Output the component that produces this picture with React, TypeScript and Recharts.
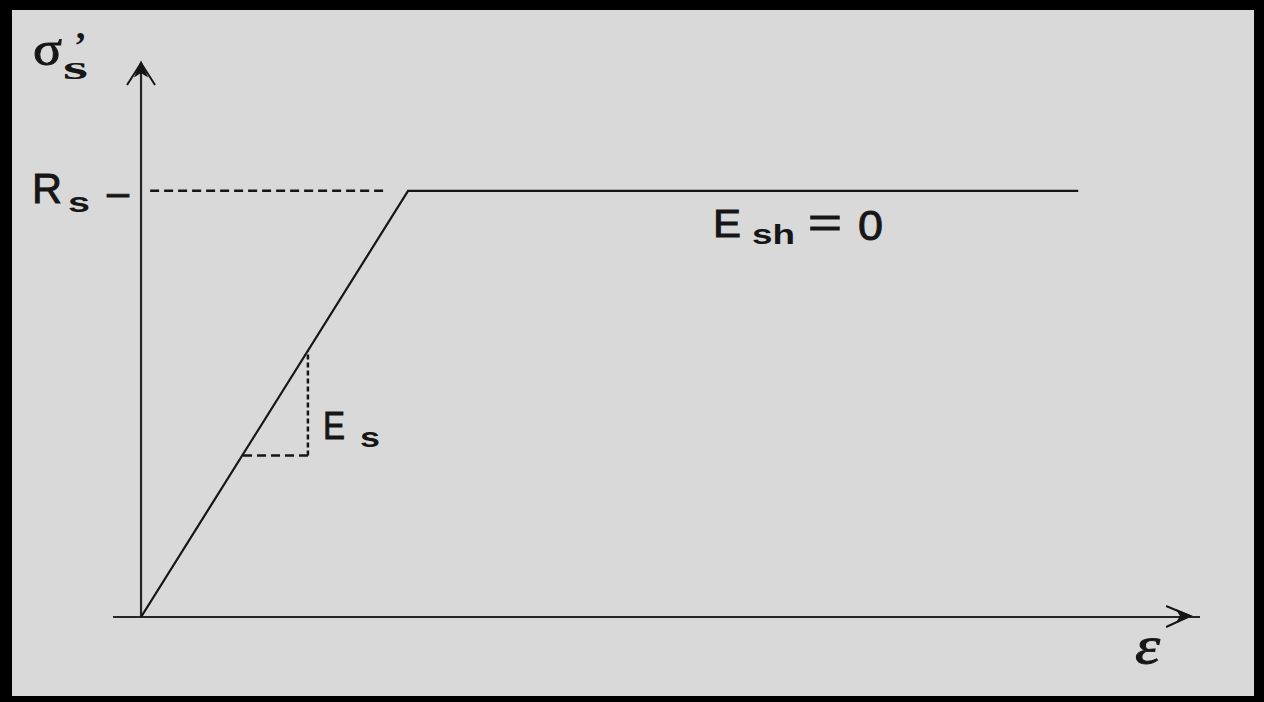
import { LineChart, Line, XAxis, YAxis, ReferenceLine, ReferenceDot } from "recharts"

// Elastic–perfectly-plastic steel: strain normalised to the yield strain, stress to Rs
const strainRange = [-0.105, 3.966]
const stressRange = [0, 1.3]

const curveStrain = [0, 1, 3.51]
const curveStress = [0, 1, 1]

// dashed guide from the stress axis to the yield point
const yieldGuideStrain = [0.034, 0.914]
const yieldStress = 1

// slope triangle for Es
const slopeStrain = [0.382, 0.625]
const slopeStress = [0.379, 0.625]

const axisTipStrain = 3.929
const plateauLabelStrain = 2.15

const curve = curveStrain.map((e, i) => ({ e, s: curveStress[i] }))

const ink = "#161616"
const sans = "Liberation Sans, Arial, sans-serif"
const serif = "Liberation Serif, Times New Roman, serif"

// a thin outline on the glyphs gives the heavier print weight
const heavy = { stroke: ink, strokeWidth: 0.9 }

type DotProps = { cx?: number; cy?: number }

function StressAxisLabel({ cx = 0, cy = 0 }: DotProps) {
  return (
    <g fill={ink}>
      <text x={cx - 108} y={cy + 2} fontFamily={serif} fontSize={48} textLength={29} lengthAdjust="spacingAndGlyphs" {...heavy}>σ</text>
      <text x={cx - 67} y={cy - 5} fontFamily={serif} fontSize={38} fontWeight="bold">’</text>
      <text x={cx - 78} y={cy + 16} fontFamily={serif} fontSize={34} fontWeight="bold" textLength={25} lengthAdjust="spacingAndGlyphs">s</text>
    </g>
  )
}

function YieldLabel({ cx = 0, cy = 0 }: DotProps) {
  return (
    <g fill={ink} fontFamily={sans}>
      <text x={cx - 109} y={cy + 12} fontSize={42} textLength={30} lengthAdjust="spacingAndGlyphs" {...heavy}>R</text>
      <text x={cx - 73} y={cy + 21} fontSize={28} fontWeight="bold" textLength={22} lengthAdjust="spacingAndGlyphs">s</text>
      <text x={cx - 34} y={cy + 15} fontSize={42} textLength={22} lengthAdjust="spacingAndGlyphs" {...heavy}>–</text>
    </g>
  )
}

function HardeningLabel({ cx = 0, cy = 0 }: DotProps) {
  return (
    <g fill={ink} fontFamily={sans}>
      <text x={cx - 2} y={cy + 46} fontSize={39} textLength={28} lengthAdjust="spacingAndGlyphs" {...heavy}>E</text>
      <text x={cx + 37} y={cy + 53} fontSize={28} fontWeight="bold" textLength={43} lengthAdjust="spacingAndGlyphs">sh</text>
      <text x={cx + 93} y={cy + 46} fontSize={42} textLength={34} lengthAdjust="spacingAndGlyphs" {...heavy}>=</text>
      <text x={cx + 143} y={cy + 49} fontSize={42} textLength={25} lengthAdjust="spacingAndGlyphs" {...heavy}>0</text>
    </g>
  )
}

function ModulusLabel({ cx = 0, cy = 0 }: DotProps) {
  return (
    <g fill={ink} fontFamily={sans}>
      <text x={cx + 15} y={cy - 16} fontSize={39} textLength={22} lengthAdjust="spacingAndGlyphs" {...heavy}>E</text>
      <text x={cx + 52} y={cy - 8} fontSize={28} fontWeight="bold" textLength={20} lengthAdjust="spacingAndGlyphs">s</text>
    </g>
  )
}

function UpArrow({ cx = 0, cy = 0 }: DotProps) {
  return (
    <g stroke={ink} strokeWidth={2} fill={ink}>
      <path d={`M${cx - 14},${cy + 22} L${cx},${cy} L${cx + 14},${cy + 22}`} fill="none" />
      <path d={`M${cx},${cy} L${cx - 5},${cy + 12} L${cx},${cy + 9} L${cx + 5},${cy + 12} Z`} />
    </g>
  )
}

function RightArrow({ cx = 0, cy = 0 }: DotProps) {
  return (
    <g stroke={ink} strokeWidth={2} fill={ink}>
      <path d={`M${cx - 24},${cy - 11} L${cx},${cy - 1} L${cx - 24},${cy + 10}`} fill="none" />
      <path d={`M${cx},${cy - 1} L${cx - 12},${cy - 6} L${cx - 9},${cy - 1} L${cx - 12},${cy + 4} Z`} />
    </g>
  )
}

function StrainLabel({ cx = 0, cy = 0 }: DotProps) {
  return (
    <text x={cx - 55} y={cy + 46} fill={ink} fontFamily={serif} fontStyle="italic" fontSize={52} textLength={25} lengthAdjust="spacingAndGlyphs" {...heavy}>
      ε
    </text>
  )
}

export default function App() {
  return (
    <div style={{ position: "absolute", left: 0, top: 0, width: 1264, height: 702, background: "#000" }}>
      <div style={{ position: "absolute", left: 12, top: 10, width: 1242, height: 686, background: "#d9d9d9" }}>
        <LineChart width={1242} height={686} data={curve} margin={{ top: 53, right: 54, bottom: 79, left: 101 }}>
          <XAxis type="number" dataKey="e" domain={strainRange} allowDataOverflow hide />
          <YAxis type="number" domain={stressRange} allowDataOverflow hide />

          {/* axes */}
          <ReferenceLine y={0} stroke="#262626" strokeWidth={2.2} />
          <ReferenceLine x={0} stroke="#262626" strokeWidth={2.2} />
          <ReferenceDot x={0} y={stressRange[1]} r={0} ifOverflow="visible" shape={UpArrow} />
          <ReferenceDot x={axisTipStrain} y={0} r={0} ifOverflow="visible" shape={RightArrow} />

          {/* guides */}
          <ReferenceLine
            segment={[
              { x: yieldGuideStrain[0], y: yieldStress },
              { x: yieldGuideStrain[1], y: yieldStress },
            ]}
            stroke={ink}
            strokeWidth={2.5}
            strokeDasharray="9 5"
          />
          <ReferenceLine
            segment={[
              { x: slopeStrain[0], y: slopeStress[0] },
              { x: slopeStrain[1], y: slopeStress[0] },
            ]}
            stroke={ink}
            strokeWidth={2.5}
            strokeDasharray="9 5"
          />
          <ReferenceLine
            segment={[
              { x: slopeStrain[1], y: slopeStress[0] },
              { x: slopeStrain[1], y: slopeStress[1] },
            ]}
            stroke={ink}
            strokeWidth={2.5}
            strokeDasharray="5 3"
          />

          <Line dataKey="s" type="linear" stroke={ink} strokeWidth={2.2} dot={false} isAnimationActive={false} />

          {/* labels */}
          <ReferenceDot x={0} y={stressRange[1]} r={0} ifOverflow="visible" shape={StressAxisLabel} />
          <ReferenceDot x={0} y={yieldStress} r={0} ifOverflow="visible" shape={YieldLabel} />
          <ReferenceDot x={plateauLabelStrain} y={yieldStress} r={0} ifOverflow="visible" shape={HardeningLabel} />
          <ReferenceDot x={slopeStrain[1]} y={slopeStress[0]} r={0} ifOverflow="visible" shape={ModulusLabel} />
          <ReferenceDot x={axisTipStrain} y={0} r={0} ifOverflow="visible" shape={StrainLabel} />
        </LineChart>
      </div>
    </div>
  )
}
